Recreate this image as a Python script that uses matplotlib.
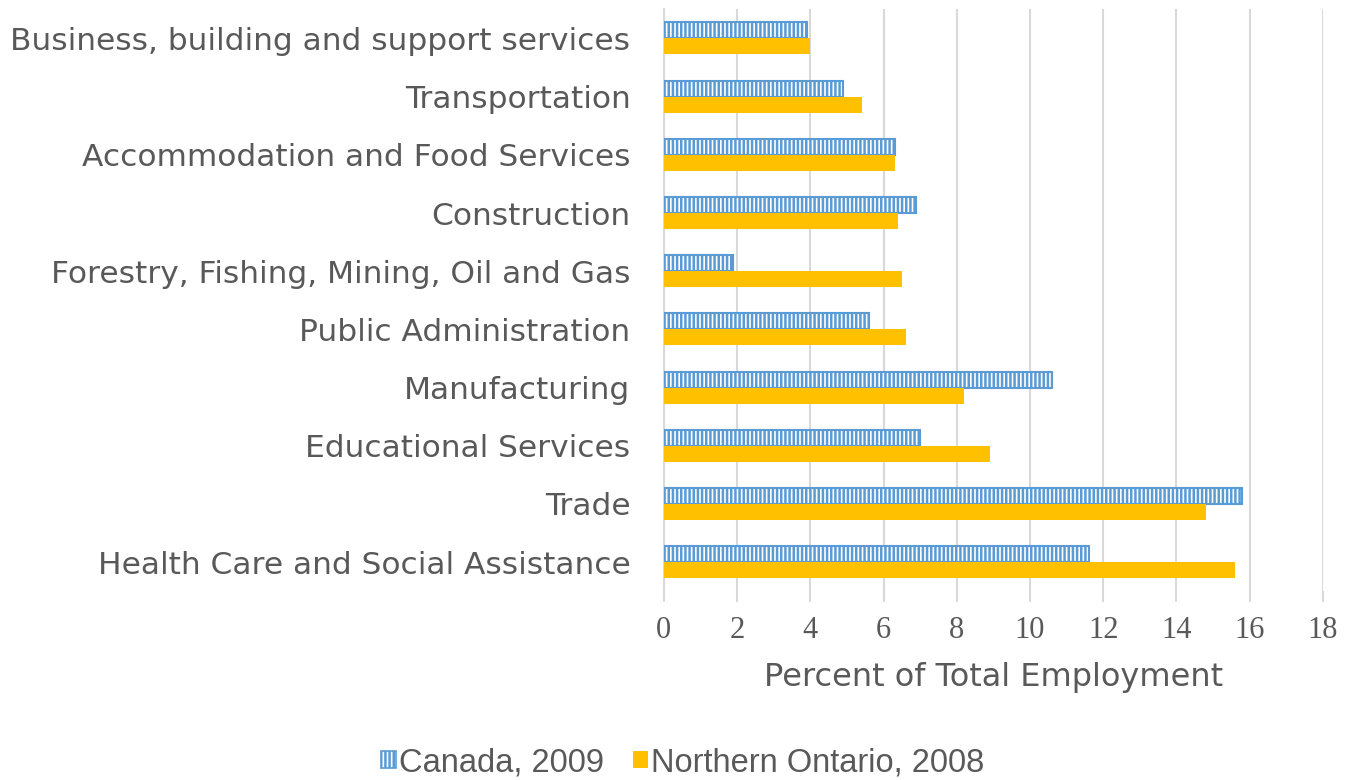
import numpy as np
import matplotlib.pyplot as plt
from matplotlib.patches import Patch

# industries, bottom to top
industries = [
    "Health Care and Social Assistance",
    "Trade",
    "Educational Services",
    "Manufacturing",
    "Public Administration",
    "Forestry, Fishing, Mining, Oil and Gas",
    "Construction",
    "Accommodation and Food Services",
    "Transportation",
    "Business, building and support services",
]
canada_2009 = [11.6, 15.8, 7.0, 10.6, 5.6, 1.9, 6.9, 6.3, 4.9, 3.9]
northern_ontario_2008 = [15.6, 14.8, 8.9, 8.2, 6.6, 6.5, 6.4, 6.3, 5.4, 4.0]
x_ticks = list(range(0, 20, 2))

blue = "#5b9bd5"
gold = "#ffc000"
grey = "#595959"

plt.rcParams["hatch.linewidth"] = 1.8
plt.rcParams["hatch.color"] = blue

fig = plt.figure(figsize=(13.52, 7.8), dpi=100)
ax = fig.add_axes([0.491, 0.242, 0.4875, 0.746])

y = np.arange(len(industries))
h = 0.275
ax.barh(y + h / 2, canada_2009, height=h, color="white", edgecolor=blue,
        linewidth=1.5, hatch="||||", label="Canada, 2009", zorder=3)
ax.barh(y - h / 2, northern_ontario_2008, height=h, color=gold,
        label="Northern Ontario, 2008", zorder=3)

ax.set_xlim(0, 18)
ax.set_ylim(-0.5, len(industries) - 0.5)
ax.set_xticks(x_ticks)
ax.set_xticklabels([str(t) for t in x_ticks], family="Liberation Serif",
                   fontsize=22, color=grey)
ax.set_yticks(y)
ax.set_yticklabels(industries, family="DejaVu Sans", fontsize=22.5, color=grey)

ax.grid(axis="x", color="#d9d9d9", linewidth=1.5, zorder=0)
for s in ["top", "right", "bottom"]:
    ax.spines[s].set_visible(False)
ax.spines["left"].set_color("#d9d9d9")
ax.spines["left"].set_linewidth(1.5)
ax.tick_params(axis="x", length=8, width=1.5, color="#d9d9d9", pad=10)
ax.tick_params(axis="y", length=0, pad=24)

ax.set_xlabel("Percent of Total Employment", family="DejaVu Sans", fontsize=23,
              color=grey, labelpad=12)

handles = [
    Patch(facecolor="white", edgecolor=blue, hatch="||||", linewidth=1.2,
          label="Canada, 2009"),
    Patch(facecolor=gold, label="Northern Ontario, 2008"),
]
fig.legend(handles=handles, loc="center", bbox_to_anchor=(0.505, 0.022),
           ncol=2, frameon=False, handlelength=0.45, handleheight=0.45,
           handletextpad=0.1, columnspacing=0.9,
           prop={"family": "Liberation Sans", "size": 23.5}, labelcolor=grey)

fig.savefig("out.png", dpi=100)
